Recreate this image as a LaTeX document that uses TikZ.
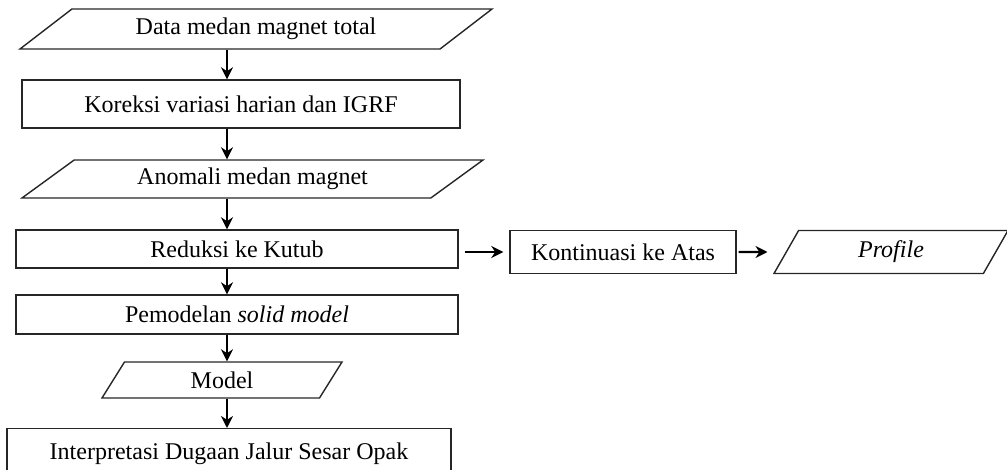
\documentclass[tikz,border=0pt]{standalone}
\usepackage{fontspec}
\setmainfont{Liberation Serif}
\usetikzlibrary{arrows.meta,shapes.geometric}

\newcommand{\teksalir}{\fontsize{12}{14}\selectfont}

\begin{document}
\begin{tikzpicture}[x=0.5pt, y=-0.5pt, >={Stealth[length=6pt,width=6pt]},
    kotak/.style={draw=black!85, line width=0.7pt, inner sep=0pt, font=\teksalir},
    data/.style={kotak, trapezium, trapezium stretches body},
    arus/.style={->, line width=1.1pt}]
    \useasboundingbox (0,0) rectangle (1007,470);
    \coordinate (spine) at (227,0);
    % alur utama
    \node[data, trapezium left angle=22.8, trapezium right angle=157.2, minimum width=236pt, minimum height=20pt] (total) at (256,29) {Data medan magnet total};
    \node[kotak, minimum width=219pt, minimum height=24pt] (koreksi) at (241,104) {Koreksi variasi harian dan IGRF};
    \node[data, trapezium left angle=22.7, trapezium right angle=157.3, minimum width=230.5pt, minimum height=19pt] (anomali) at (252.5,179) {Anomali medan magnet};
    \node[kotak, minimum width=221pt, minimum height=19pt] (reduksi) at (237,249) {Reduksi ke Kutub};
    \node[kotak, minimum width=221pt, minimum height=19.5pt] (pemodelan) at (237,314.5) {Pemodelan \textit{solid model}};
    \node[data, trapezium left angle=36.9, trapezium right angle=143.1, minimum width=120pt, minimum height=18pt] (model) at (222,380) {Model};
    \node[kotak, anchor=north, minimum width=222pt, inner ysep=7pt, align=center] (interpretasi) at (229,428) {Interpretasi Dugaan Jalur Sesar Opak\\[20pt]\strut};
    % cabang kanan
    \node[kotak, minimum width=113pt, minimum height=21.5pt] (kontinuasi) at (623,252) {Kontinuasi ke Atas};
    \node[data, trapezium left angle=41.8, trapezium right angle=138.2, minimum width=117pt, minimum height=21.5pt] (profile) at (891,252) {\textit{Profile}};

    \draw[arus] (spine |- total.south) -- (spine |- koreksi.north);
    \draw[arus] (spine |- koreksi.south) -- (spine |- anomali.north);
    \draw[arus] (spine |- anomali.south) -- (spine |- reduksi.north);
    \draw[arus] (spine |- reduksi.south) -- (spine |- pemodelan.north);
    \draw[arus] (spine |- pemodelan.south) -- (spine |- model.north);
    \draw[arus] (spine |- model.south) -- (spine |- interpretasi.north);
    \draw[arus, shorten <=3pt, shorten >=3pt] (reduksi.east |- kontinuasi.west) -- (kontinuasi.west);
    \draw[arus, shorten <=1pt, shorten >=9pt] (kontinuasi.east) -- (profile.west);
\end{tikzpicture}
\end{document}
